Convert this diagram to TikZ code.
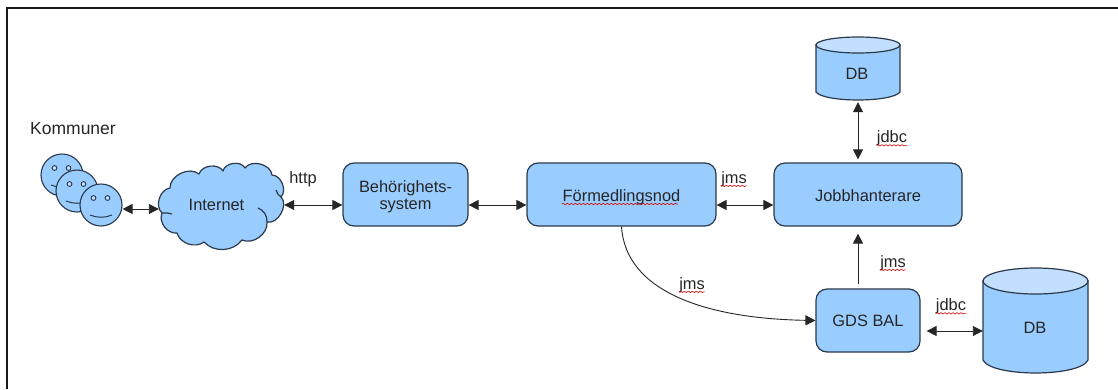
\documentclass[tikz,border=0pt]{standalone}
\usepackage{fontspec}
\setmainfont{Liberation Sans}
\usetikzlibrary{arrows.meta,decorations.pathmorphing}
\definecolor{fillblue}{HTML}{99CCFF}
\definecolor{toplight}{HTML}{C2DFFF}
\definecolor{edge}{HTML}{2B3A4A}
\tikzset{
  x=1pt,y=-1pt,
  every node/.style={font=\fontsize{16.4}{17}\selectfont,text=black!85},
  procbox/.style={draw=edge,line width=1.2pt,fill=fillblue,rounded corners=11pt,inner sep=0pt,align=center},
  face/.style={circle,draw=edge,line width=1.1pt,fill=fillblue,minimum size=42pt,inner sep=0pt},
  feature/.style={draw=edge,line width=.9pt,fill=fillblue!60!white},
  shapeline/.style={draw=edge,line width=1.2pt},
  link/.style={draw=black!85,line width=.9pt,-{Triangle[length=10pt,width=10pt]}},
  dlink/.style={draw=black!85,line width=.9pt,{Triangle[length=10pt,width=10pt]}-{Triangle[length=10pt,width=10pt]}},
  squig/.style={draw=red!85!black,line width=.6pt,decorate,decoration={snake,amplitude=.7pt,segment length=4pt}},
  lbl/.style={inner sep=0pt}
}
\newcommand{\smiley}[3]{%
  \node[face] (#3) at (#1,#2) {};
  \filldraw[feature] (#1-7.5,#2-7) circle (2.4pt);
  \filldraw[feature] (#1+6.5,#2-7) circle (2.4pt);
  \draw[edge,line width=1pt] (#1-11,#2+10) .. controls (#1-4,#2+13) and (#1+4,#2+13) .. (#1+11,#2+10);
}
% left, right, rim centre y, rim y radius, bottom rim centre y
\newcommand{\dbdrum}[5]{%
  \filldraw[shapeline,fill=fillblue] (#1,#3) -- (#1,#5)
    .. controls (#1+8,{#5+1.33*#4}) and (#2-8,{#5+1.33*#4}) .. (#2,#5) -- (#2,#3) -- cycle;
  \filldraw[shapeline,fill=toplight] ({(#1+#2)/2},#3) ellipse ({(#2-#1)/2} and #4);
}
\begin{document}
\begin{tikzpicture}
\useasboundingbox (0,0) rectangle (1118,389);
\fill[white] (0,0) rectangle (1118,389);
\draw[black!90,line width=2pt] (7,389) -- (7,8) -- (1118,8);
% faces
\smiley{62}{175}{faceA}
\smiley{77}{191}{faceB}
\smiley{101}{205}{faceC}
\node[lbl,anchor=west,font=\fontsize{17.5}{19}\selectfont] (komm) at (30,129) {Kommuner};
% cloud
\filldraw[shapeline,fill=fillblue,line join=round]
  (170,188) to[bend left=65] (199,174)
  to[bend left=65] (223,171)
  to[bend left=70] (245,168)
  to[bend left=70] (272,175)
  to[bend left=65] (281,197)
  to[bend left=75] (267,222)
  to[bend left=60] (242,240)
  to[bend left=50] (204,242)
  to[bend left=55] (177,233)
  to[bend left=60] (162,213)
  to[bend left=65] (170,188) -- cycle;
\draw[shapeline] (162,213) to[bend left=10] (172,214);
\draw[shapeline] (258,208) to[bend left=35] (267,222);
\draw[shapeline] (281,197) to[bend left=20] (276,190);
\node[lbl,minimum width=115pt,minimum height=84pt] (net) at (216.5,205) {Internet};
\node[lbl] (http) at (303,179.5) {http};
\node[procbox,minimum width=125pt,minimum height=63pt] (beh) at (405.5,194.5) {\rule{0pt}{17pt}Behörighets-\\[0pt]system};
\node[procbox,minimum width=189pt,minimum height=63pt] (form) at (621.5,194.5) {\rule{0pt}{17pt}Förmedlingsnod};
\node[procbox,minimum width=188pt,minimum height=63pt] (job) at (868,194.5) {\rule{0pt}{15pt}Jobbhanterare};
\node[procbox,minimum width=104pt,minimum height=63pt] (gds) at (868,320.5) {GDS BAL};
\dbdrum{816}{900}{45}{8}{92}
\node[lbl,minimum width=84pt,minimum height=63pt] (dbt) at (858,68.5) {};
\node[lbl] (dbttext) at (857,74) {DB};
\dbdrum{983}{1088}{281}{13}{360}
\node[lbl,minimum width=105pt,minimum height=105pt] (dbb) at (1035.5,320.5) {};
\node[lbl] (dbbtext) at (1035,328) {DB};
% labels
\node[lbl] (ljmsa) at (734,179) {jms};
\node[lbl] (ljdbca) at (892,138.5) {jdbc};
\node[lbl] (ljmsb) at (893,263) {jms};
\node[lbl] (ljmsc) at (692,285) {jms};
\node[lbl] (ljdbcb) at (951,306.5) {jdbc};
% squiggles
\draw[squig] ([yshift=1pt]ljmsa.south west) -- ([yshift=1pt]ljmsa.south east);
\draw[squig] ([yshift=1pt]ljdbca.south west) -- ([yshift=1pt]ljdbca.south east);
\draw[squig] ([yshift=1pt]ljmsb.south west) -- ([yshift=1pt]ljmsb.south east);
\draw[squig] ([yshift=1pt]ljmsc.south west) -- ([yshift=1pt]ljmsc.south east);
\draw[squig] ([yshift=1pt]ljdbcb.south west) -- ([yshift=1pt]ljdbcb.south east);
\draw[squig] (562,204) -- (678,204);
% connectors
\draw[dlink] ([yshift=-4pt]faceC.east) -- ([yshift=-4pt]net.west);
\draw[dlink] ([xshift=10pt]net.east) -- ([yshift=-10.5pt]beh.west);
\draw[dlink] ([yshift=-10.5pt]beh.east) -- ([yshift=-10.5pt]form.west);
\draw[dlink] ([yshift=-10.5pt]form.east) -- ([yshift=-10.5pt]job.west);
\draw[dlink] ([xshift=-10pt,yshift=3pt]job.north) -- ([yshift=-2pt]dbt.south);
\draw[link] ([xshift=-10pt,yshift=4pt]gds.north) -- ([xshift=-10pt,yshift=-7pt]job.south);
\draw[dlink] ([xshift=6pt,yshift=-10.5pt]gds.east) -- ([yshift=-10.5pt]dbb.west);
\draw[link] (form.south) .. controls ++(4,64) and ++(-112,-2) .. (gds.west);
\end{tikzpicture}
\end{document}
